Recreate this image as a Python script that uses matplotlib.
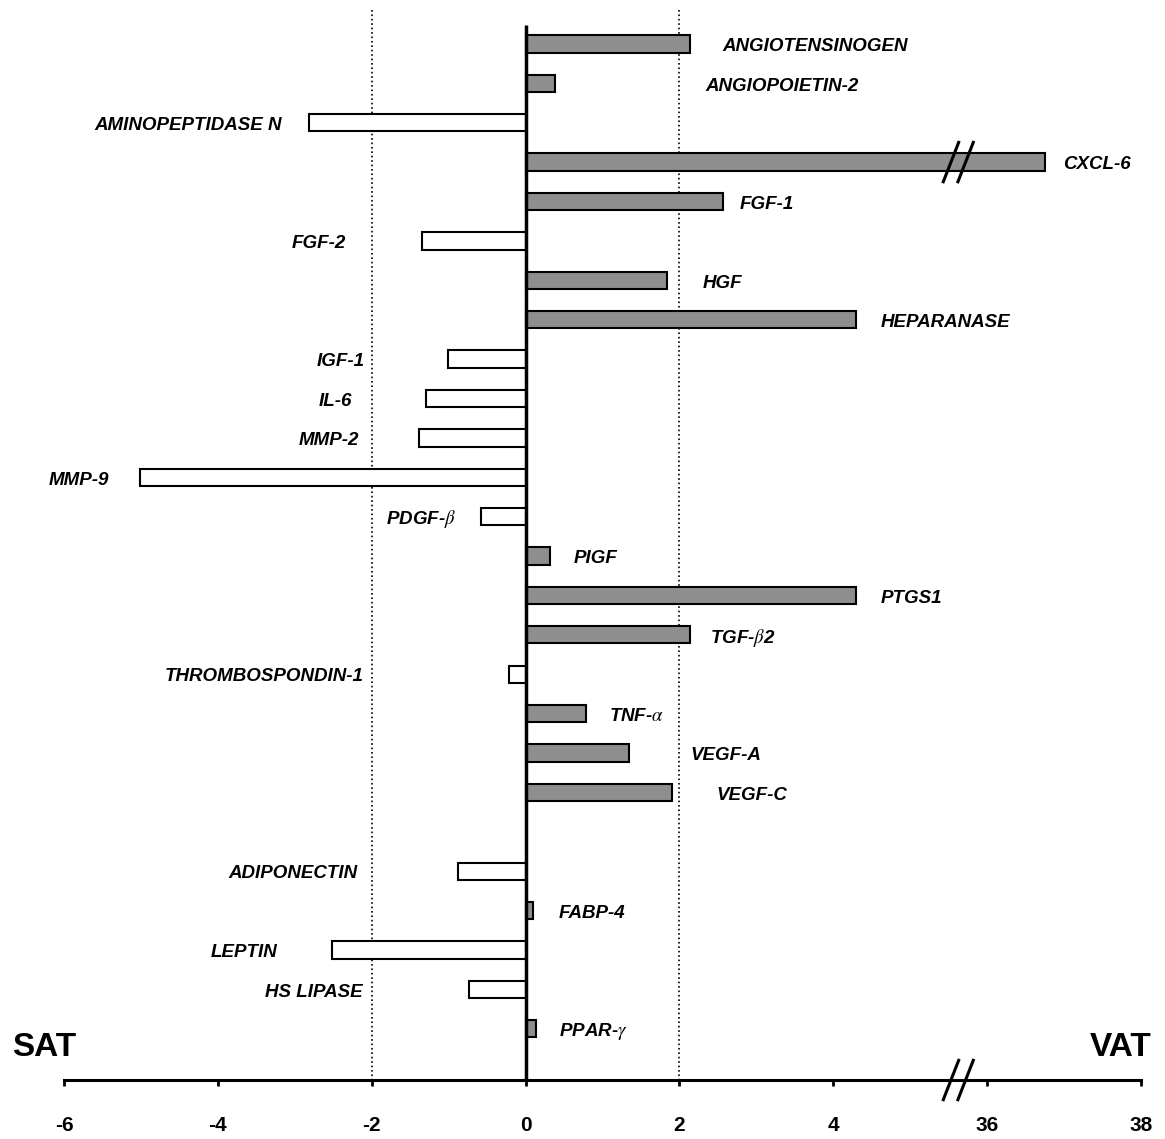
import matplotlib.pyplot as plt

# genes (top to bottom), "" = empty row
genes = ["ANGIOTENSINOGEN", "ANGIOPOIETIN-2", "AMINOPEPTIDASE N", "CXCL-6", "FGF-1",
         "FGF-2", "HGF", "HEPARANASE", "IGF-1", "IL-6", "MMP-2", "MMP-9",
         r"PDGF-$\beta$", "PIGF", "PTGS1", r"TGF-$\beta$2", "THROMBOSPONDIN-1",
         r"TNF-$\alpha$", "VEGF-A", "VEGF-C", "",
         "ADIPONECTIN", "FABP-4", "LEPTIN", "HS LIPASE", r"PPAR-$\gamma$"]
values = [2.14, 0.38, -2.82, 36.75, 2.57,
          -1.34, 1.84, 4.29, -1.01, -1.29, -1.39, -5.01,
          -0.58, 0.32, 4.30, 2.14, -0.21,
          0.79, 1.34, 1.90, None,
          -0.88, 0.10, -2.51, -0.74, 0.13]

tick_pos = [-6, -4, -2, 0, 2, 4, 6, 8]
tick_lab = ["-6", "-4", "-2", "0", "2", "4", "36", "38"]

# label anchor in plot units (layout only)
label_x = [2.56, 2.34, -3.17, 6.99, 2.78,
           -2.34, 2.30, 4.62, -2.09, -2.25, -2.17, -5.42,
           -0.91, 0.62, 4.62, 2.40, -2.10,
           1.09, 2.14, 2.48, None,
           -2.18, 0.43, -3.23, -2.12, 0.43]


def shown(v):
    # broken axis: 36..38 drawn at 6..8
    return v - 30 if v > 5 else v


plt.rcParams['font.family'] = ['Liberation Sans', 'DejaVu Sans']
plt.rcParams['mathtext.fontset'] = 'stix'

fig = plt.figure(figsize=(11.65, 11.39), dpi=100)
ax = fig.add_axes([0.0549, 0.0518, 0.9245, 0.9394])

for i, (g, v, lx) in enumerate(zip(genes, values, label_x)):
    if v is None:
        continue
    w = shown(v)
    ax.barh(i, w, height=0.44, left=0,
            color="#8e8e8e" if w > 0 else "white",
            edgecolor="black", linewidth=1.5, zorder=3)
    ax.text(lx, i + 0.07, g, ha="left" if w > 0 else "right", va="center",
            fontsize=13.5, fontweight="bold", style="italic", zorder=4)

ymax = 26.3
ax.set_ylim(ymax, -0.86)
ax.set_xlim(-6, 8)

ax.vlines([-2, 2], -0.86, ymax, colors="black", linestyles=":", linewidth=1.2, zorder=1)
ax.vlines(0, -0.48, ymax, colors="black", linewidth=2.5, zorder=5)

for s in ["top", "right", "left"]:
    ax.spines[s].set_visible(False)
ax.spines["bottom"].set_linewidth(2.2)
ax.set_yticks([])
ax.set_xticks(tick_pos)
ax.set_xticklabels(tick_lab, fontsize=15, fontweight="bold")
ax.tick_params(axis="x", length=4, width=2, pad=22)

# break marks on the axis and on the CXCL-6 bar
for bx in [5.53, 5.72]:
    ax.plot([bx - 0.1, bx + 0.1], [ymax + 0.5, ymax - 0.5], color="black",
            lw=2.2, clip_on=False, zorder=6)
    ax.plot([bx - 0.1, bx + 0.1], [3.5, 2.5], color="black", lw=2.2, zorder=6)

fig.text(0.010, 0.073, "SAT", fontsize=24, fontweight="bold")
fig.text(0.988, 0.073, "VAT", fontsize=24, fontweight="bold", ha="right")

fig.savefig("out.png", dpi=100)
